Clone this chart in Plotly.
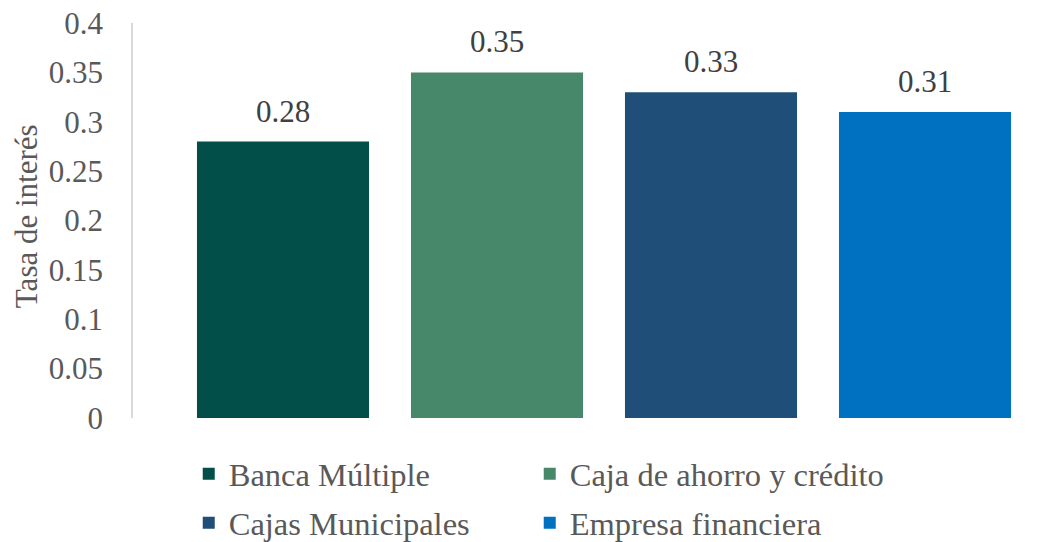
import plotly.graph_objects as go

# Interest rate by type of financial institution
categorias = ["Banca Múltiple", "Caja de ahorro y crédito", "Cajas Municipales", "Empresa financiera"]
tasas = [0.28, 0.35, 0.33, 0.31]
colores = ["#024F4A", "#468869", "#1F4E79", "#0070C0"]
ticks_y = [0, 0.05, 0.1, 0.15, 0.2, 0.25, 0.3, 0.35, 0.4]
etiquetas_y = ["0", "0.05", "0.1", "0.15", "0.2", "0.25", "0.3", "0.35", "0.4"]

FUENTE = "'Times New Roman', 'Liberation Serif', 'DejaVu Serif', serif"
GRIS = "#595959"
TAM = 31

# one legend box per entry, laid out as a 2x2 grid under the plot
ids_leyenda = ["legend", "legend2", "legend3", "legend4"]
col_x = [0.062, 0.062 + 341 / 899]
fila_y = [-(474 - 418) / 395, -(523 - 418) / 395]

fig = go.Figure()
for i, (nombre, valor, color) in enumerate(zip(categorias, tasas, colores)):
    fig.add_trace(go.Bar(
        x=[i], y=[valor], name=nombre,
        marker=dict(color=color, line=dict(width=0)),
        width=0.804,
        hoverinfo="skip",
        legend=ids_leyenda[i],
    ))
    fig.add_annotation(
        x=i, y=valor, text=f"{valor:.2f}", showarrow=False,
        yanchor="bottom", yshift=11,
        font=dict(family=FUENTE, size=TAM, color="#404040"),
    )

fig.add_annotation(
    x=(26 - 133) / 899, y=0.511, xref="paper", yref="paper",
    xanchor="center", yanchor="middle",
    text="Tasa de interés", textangle=-90, showarrow=False,
    font=dict(family=FUENTE, size=TAM, color=GRIS),
)

leyendas = {}
for i, lid in enumerate(ids_leyenda):
    leyendas[lid] = dict(
        orientation="h", x=col_x[i % 2], xanchor="left",
        y=fila_y[i // 2], yanchor="middle",
        font=dict(family=FUENTE, size=32.5, color=GRIS),
        bgcolor="rgba(0,0,0,0)",
    )

fig.update_layout(
    width=1063, height=542,
    margin=dict(l=133, r=31, t=23, b=124, autoexpand=False),
    paper_bgcolor="white", plot_bgcolor="white",
    barmode="overlay",
    showlegend=True,
    xaxis=dict(
        range=[-0.5 - 43 / 214, 3.5], showticklabels=False, showgrid=False,
        zeroline=False, showline=False, ticks="",
    ),
    yaxis=dict(
        range=[0, 0.4], tickvals=ticks_y, ticktext=etiquetas_y,
        showgrid=False, zeroline=False,
        showline=True, linecolor="#D9D9D9", linewidth=1.5,
        ticks="", ticklabelstandoff=22,
        tickfont=dict(family=FUENTE, size=TAM, color=GRIS),
    ),
    **leyendas,
)

fig.write_html("out.html")
